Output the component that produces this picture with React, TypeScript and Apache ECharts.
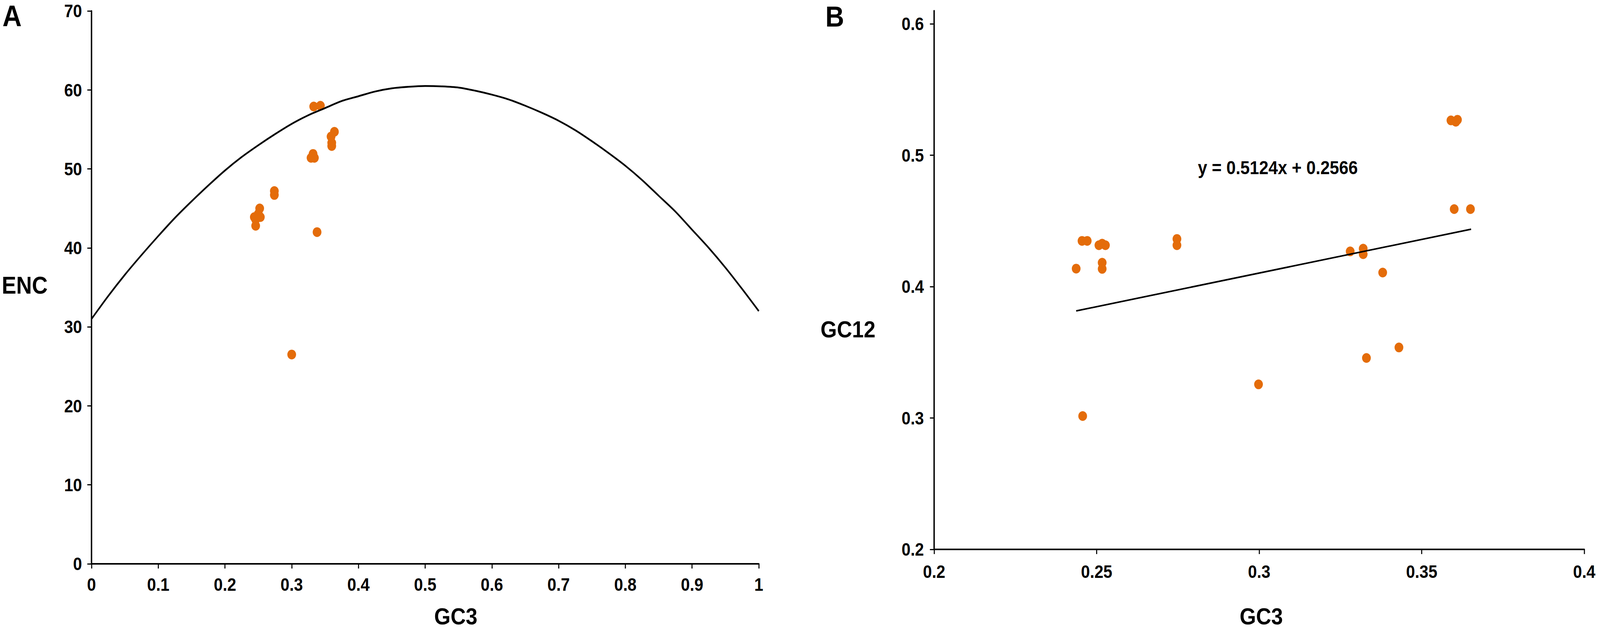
import React, { useEffect, useRef } from "react";
import * as echarts from "echarts";

// ---------- Panel A data (GC3 vs ENC) ----------
const encGC3 = [0.333, 0.343, 0.364, 0.359, 0.360, 0.360, 0.332, 0.329, 0.334, 0.274, 0.274, 0.252, 0.250, 0.244, 0.253, 0.246, 0.246, 0.338, 0.300];
const encValues = [57.9, 58.0, 54.7, 54.1, 53.3, 52.9, 51.9, 51.4, 51.4, 47.2, 46.7, 45.0, 44.3, 43.9, 43.9, 43.6, 42.8, 42.0, 26.5];

// expected-ENC curve at 0.025 steps
const curveGC3 = [0, 0.025, 0.05, 0.075, 0.1, 0.125, 0.15, 0.175, 0.2, 0.225, 0.25, 0.275, 0.3, 0.325, 0.35, 0.375, 0.4, 0.425, 0.45, 0.475, 0.5, 0.525, 0.55, 0.575, 0.6, 0.625, 0.65, 0.675, 0.7, 0.725, 0.75, 0.775, 0.8, 0.825, 0.85, 0.875, 0.9, 0.925, 0.95, 0.975, 1.0];
const curveENC = [31.0, 33.9, 36.6, 39.1, 41.5, 43.8, 45.9, 47.9, 49.8, 51.5, 53.0, 54.4, 55.7, 56.8, 57.7, 58.6, 59.2, 59.8, 60.2, 60.4, 60.5, 60.45, 60.3, 59.9, 59.4, 58.8, 58.0, 57.1, 56.1, 54.9, 53.5, 52.0, 50.4, 48.6, 46.6, 44.6, 42.3, 40.0, 37.5, 34.8, 32.0];

// ---------- Panel B data (GC3 vs GC12) ----------
const gc12GC3 = [0.2437, 0.2457, 0.2455, 0.2471, 0.2507, 0.2517, 0.2527, 0.2517, 0.2517, 0.2747, 0.2747, 0.2998, 0.328, 0.332, 0.332, 0.333, 0.338, 0.343, 0.359, 0.361, 0.3605, 0.360, 0.365];
const gc12Values = [0.4137, 0.3015, 0.4348, 0.4348, 0.4315, 0.4327, 0.4315, 0.4182, 0.4135, 0.4363, 0.4315, 0.3256, 0.4268, 0.4289, 0.4247, 0.3457, 0.4107, 0.3537, 0.5265, 0.527, 0.5255, 0.459, 0.459];

// regression line end points
const fitGC3 = [0.2437, 0.3652];
const fitGC12 = [0.3815, 0.4437];
const equationText = "y = 0.5124x + 0.2566";

// ticks
const bYTicks = [0.2, 0.3, 0.4, 0.5, 0.6];

const FONT = "'Liberation Sans', Arial, Helvetica, sans-serif";
const ORANGE = "#E46C0A";
const W = 4563;
const H = 1616;

function zip(xs: number[], ys: number[]) {
  return xs.map((x, i) => [x, ys[i]]);
}

export default function App() {
  const ref = useRef<HTMLDivElement>(null);
  const vw = typeof window !== "undefined" ? window.innerWidth || W : W;
  const vh = typeof window !== "undefined" ? window.innerHeight || H : H;
  const sx = vw / W;
  const sy = vh / H;

  useEffect(() => {
    document.body.style.margin = "0";
    document.body.style.overflow = "hidden";
    if (!ref.current) return;
    const chart = echarts.init(ref.current, undefined, { renderer: "svg" });

    const axisLine = { show: true, lineStyle: { color: "#000", width: 4 } };
    const axisTick = { show: true, length: 12, lineStyle: { color: "#000", width: 3 } };
    const label = (margin: number) => ({
      color: "#000",
      fontFamily: FONT,
      fontWeight: "bold" as const,
      fontSize: 46,
      margin,
    });

    const txt = (text: string, x: number, y: number, size: number, align = "left") => ({
      type: "text",
      x,
      y,
      style: {
        text,
        fill: "#000",
        font: `bold ${size}px ${FONT}`,
        fontFamily: FONT,
        fontWeight: "bold",
        fontSize: size,
        align,
        textAlign: align,
        verticalAlign: "middle",
        textVerticalAlign: "middle",
      },
    });

    chart.setOption({
      animation: false,
      backgroundColor: "#fff",
      grid: [
        { left: 261, top: 28, width: 1903, height: 1416, containLabel: false },
        { left: 2664, top: 27.4, width: 1854, height: 1379.6, containLabel: false },
      ],
      xAxis: [
        {
          type: "value",
          gridIndex: 0,
          min: 0,
          max: 1,
          interval: 0.1,
          axisLine,
          axisTick,
          axisLabel: label(30),
          splitLine: { show: false },
        },
        {
          type: "value",
          gridIndex: 1,
          min: 0.2,
          max: 0.4,
          interval: 0.05,
          axisLine,
          axisTick,
          axisLabel: label(34),
          splitLine: { show: false },
        },
      ],
      yAxis: [
        {
          type: "value",
          gridIndex: 0,
          min: 0,
          max: 70,
          interval: 10,
          axisLine,
          axisTick,
          axisLabel: label(27),
          splitLine: { show: false },
        },
        {
          type: "value",
          gridIndex: 1,
          min: 0.2,
          max: 0.61,
          axisLine,
          axisTick: { ...axisTick, customValues: bYTicks },
          axisLabel: { ...label(29), customValues: bYTicks, formatter: (v: number) => String(Math.round(v * 10) / 10) },
          splitLine: { show: false },
        },
      ],
      series: [
        {
          type: "scatter",
          xAxisIndex: 0,
          yAxisIndex: 0,
          data: zip(encGC3, encValues),
          symbolSize: 25,
          itemStyle: { color: ORANGE, opacity: 1 },
          z: 2,
        },
        {
          type: "line",
          xAxisIndex: 0,
          yAxisIndex: 0,
          data: zip(curveGC3, curveENC),
          smooth: 0.3,
          showSymbol: false,
          symbol: "none",
          lineStyle: { color: "#000", width: 4.5 },
          z: 3,
        },
        {
          type: "scatter",
          xAxisIndex: 1,
          yAxisIndex: 1,
          data: zip(gc12GC3, gc12Values),
          symbolSize: 25,
          itemStyle: { color: ORANGE, opacity: 1 },
          z: 2,
        },
        {
          type: "line",
          xAxisIndex: 1,
          yAxisIndex: 1,
          data: zip(fitGC3, fitGC12),
          showSymbol: false,
          symbol: "none",
          lineStyle: { color: "#000", width: 4 },
          z: 3,
        },
      ],
      graphic: [
        txt("A", 7, 41, 76),
        txt("B", 2354, 42, 74),
        txt("ENC", 5, 730, 62),
        txt("GC12", 2340, 843, 60),
        txt("GC3", 1300, 1578, 60, "center"),
        txt("GC3", 3597, 1578, 60, "center"),
        txt(equationText, 3416, 430, 48),
      ],
    });

    return () => chart.dispose();
  }, []);

  return (
    <div style={{ position: "fixed", left: 0, top: 0, width: vw, height: vh, overflow: "hidden", background: "#fff" }}>
      <div
        ref={ref}
        style={{
          position: "absolute",
          left: 0,
          top: 0,
          width: W,
          height: H,
          background: "#fff",
          transformOrigin: "0 0",
          transform: `scale(${sx}, ${sy})`,
        }}
      />
    </div>
  );
}
